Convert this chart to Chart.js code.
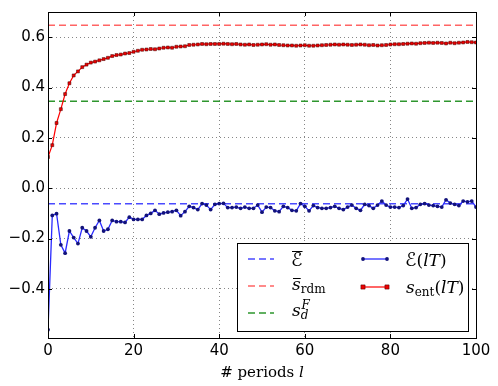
<!DOCTYPE html>
<html><head><meta charset="utf-8">
<script src="https://cdn.jsdelivr.net/npm/chart.js@4/dist/chart.umd.min.js"></script>
<style>html,body{margin:0;padding:0;background:#fff}</style>
</head><body>
<canvas id="c" width="498" height="386"></canvas>
<script>
// ---- data ----
const periods = Array.from({length: 101}, (_, i) => i);
const entanglement = [
  -0.562, -0.108, -0.101, -0.225, -0.258, -0.170, -0.196, -0.220, -0.157, -0.170,
  -0.193, -0.157, -0.128, -0.170, -0.163, -0.128, -0.133, -0.133, -0.136, -0.115,
  -0.124, -0.124, -0.124, -0.108, -0.100, -0.088, -0.103, -0.098, -0.095, -0.093,
  -0.088, -0.109, -0.093, -0.072, -0.077, -0.085, -0.061, -0.067, -0.085, -0.064,
  -0.061, -0.060, -0.077, -0.077, -0.075, -0.080, -0.075, -0.080, -0.080, -0.067,
  -0.095, -0.075, -0.077, -0.090, -0.093, -0.072, -0.077, -0.088, -0.090, -0.061,
  -0.072, -0.090, -0.069, -0.077, -0.080, -0.080, -0.077, -0.072, -0.080, -0.085,
  -0.075, -0.067, -0.080, -0.088, -0.064, -0.069, -0.080, -0.067, -0.051, -0.067,
  -0.075, -0.075, -0.077, -0.069, -0.043, -0.080, -0.077, -0.064, -0.061, -0.067,
  -0.069, -0.072, -0.075, -0.046, -0.059, -0.064, -0.069, -0.051, -0.054, -0.051,
  -0.075
];
const entropy = [
  0.124, 0.171, 0.259, 0.314, 0.374, 0.417, 0.448, 0.464, 0.481, 0.491,
  0.499, 0.503, 0.508, 0.513, 0.518, 0.525, 0.529, 0.531, 0.535, 0.537,
  0.542, 0.546, 0.550, 0.551, 0.553, 0.552, 0.555, 0.558, 0.559, 0.558,
  0.562, 0.563, 0.564, 0.569, 0.570, 0.571, 0.573, 0.572, 0.573, 0.573,
  0.573, 0.574, 0.573, 0.572, 0.573, 0.571, 0.570, 0.571, 0.569, 0.570,
  0.571, 0.572, 0.570, 0.571, 0.569, 0.568, 0.567, 0.567, 0.566, 0.567,
  0.568, 0.566, 0.566, 0.567, 0.568, 0.569, 0.570, 0.571, 0.570, 0.571,
  0.570, 0.569, 0.570, 0.571, 0.570, 0.568, 0.569, 0.567, 0.568, 0.569,
  0.571, 0.572, 0.572, 0.573, 0.574, 0.575, 0.574, 0.576, 0.577, 0.578,
  0.577, 0.578, 0.577, 0.575, 0.578, 0.576, 0.578, 0.579, 0.581, 0.580,
  0.579
];
const E_BAR = -0.0615;
const S_RDM = 0.647;
const S_DF = 0.345;
const X_RANGE = [0, 100];
const Y_RANGE = [-0.595, 0.70];
const X_TICKS = [0, 20, 40, 60, 80, 100];
const Y_TICKS = [-0.4, -0.2, 0.0, 0.2, 0.4, 0.6];

// ---- helpers ----
function hline(v) { return [{x: X_RANGE[0], y: v}, {x: X_RANGE[1], y: v}]; }
function fmtY(v) { const s = Math.abs(v).toFixed(1); return (v < -1e-9 ? '\u2212' : '') + s; }

const SERIF = '"DejaVu Serif", "Liberation Serif", serif';
function rich(ctx, x, y, segs) {
  for (const s of segs) {
    ctx.font = (s.i ? 'italic ' : '') + s.size + 'px ' + (s.f || SERIF);
    const yy = y + (s.dy || 0);
    ctx.fillText(s.t, x, yy);
    const w = ctx.measureText(s.t).width;
    if (s.over) {
      ctx.save(); ctx.lineWidth = 1; ctx.strokeStyle = '#000';
      ctx.beginPath(); ctx.moveTo(x + 1, Math.round(yy - s.over) + 0.5); ctx.lineTo(x + w, Math.round(yy - s.over) + 0.5); ctx.stroke();
      ctx.restore();
    }
    x += w + (s.gap || 0);
  }
}

const framePlugin = {
  id: 'frame',
  afterDatasetsDraw(chart) {
    const {ctx, chartArea: a, scales} = chart;
    ctx.save();
    ctx.strokeStyle = '#000'; ctx.lineWidth = 1;
    ctx.strokeRect(Math.round(a.left) + 0.5, Math.round(a.top) + 0.5, Math.round(a.right - a.left), Math.round(a.bottom - a.top));
    ctx.beginPath();
    for (const v of X_TICKS) {
      const px = Math.round(scales.x.getPixelForValue(v)) + 0.5;
      ctx.moveTo(px, a.bottom); ctx.lineTo(px, a.bottom - 4);
      ctx.moveTo(px, a.top); ctx.lineTo(px, a.top + 4);
    }
    for (const v of Y_TICKS) {
      const py = Math.round(scales.y.getPixelForValue(v)) + 0.5;
      ctx.moveTo(a.left, py); ctx.lineTo(a.left + 4, py);
      ctx.moveTo(a.right, py); ctx.lineTo(a.right - 4, py);
    }
    ctx.stroke();
    ctx.restore();
  },
  afterDraw(chart) {
    const {ctx, chartArea: a} = chart;
    ctx.save();
    ctx.fillStyle = '#000'; ctx.textBaseline = 'alphabetic';
    // x axis title
    const t1 = '# periods ';
    ctx.font = '15px ' + SERIF;
    const w1 = ctx.measureText(t1).width;
    ctx.font = 'italic 15px ' + SERIF;
    const w2 = ctx.measureText('l').width;
    const cx = (a.left + a.right) / 2;
    rich(ctx, cx - (w1 + w2) / 2, 377, [{t: t1, size: 15}, {t: 'l', size: 15, i: true}]);

    // legend box
    const L = 237, T = 243, R = 468, B = 331;
    ctx.fillStyle = '#fff';
    ctx.fillRect(L, T, R - L, B - T);
    ctx.strokeStyle = '#000'; ctx.lineWidth = 1;
    ctx.strokeRect(L + 0.5, T + 0.5, R - L, B - T);

    const ds = chart.data.datasets;
    function dashSample(d, y) {
      ctx.save();
      ctx.strokeStyle = d.borderColor; ctx.lineWidth = d.borderWidth; ctx.setLineDash(d.borderDash);
      ctx.beginPath(); ctx.moveTo(248, y); ctx.lineTo(274, y); ctx.stroke();
      ctx.restore();
    }
    function lineSample(d, y) {
      ctx.save();
      ctx.strokeStyle = d.borderColor; ctx.lineWidth = d.borderWidth;
      ctx.beginPath(); ctx.moveTo(363, y); ctx.lineTo(387, y); ctx.stroke();
      for (const px of [363, 387]) {
        ctx.fillStyle = d.pointBackgroundColor;
        ctx.strokeStyle = d.pointBorderColor; ctx.lineWidth = d.pointBorderWidth || 0.01;
        ctx.beginPath();
        if (d.pointStyle === 'rect') ctx.rect(px - d.pointRadius, y - d.pointRadius, 2 * d.pointRadius, 2 * d.pointRadius);
        else ctx.arc(px, y, d.pointRadius, 0, Math.PI * 2);
        ctx.fill(); if (d.pointBorderWidth) ctx.stroke();
      }
      ctx.restore();
    }
    dashSample(ds[0], 259);
    dashSample(ds[1], 286);
    dashSample(ds[2], 313);
    lineSample(ds[3], 259);
    lineSample(ds[4], 287);

    ctx.fillStyle = '#000';
    const SCR = '"DejaVu Sans", "DejaVu Serif", serif';
    rich(ctx, 291, 266, [{t: '\u2130', size: 19, f: SCR, over: 15}]);
    rich(ctx, 292, 290, [{t: 's', size: 17, i: true, over: 12}, {t: 'rdm', size: 12, dy: 3}]);
    rich(ctx, 292, 316, [{t: 's', size: 17, i: true}, {t: 'd', size: 12, i: true, dy: 3, gap: -7}, {t: 'F', size: 12, i: true, dy: -7}]);
    rich(ctx, 405, 266, [{t: '\u2130', size: 19, f: SCR}, {t: '(', size: 17}, {t: 'lT', size: 17, i: true}, {t: ')', size: 17}]);
    rich(ctx, 406, 293, [{t: 's', size: 17, i: true}, {t: 'ent', size: 12, dy: 3}, {t: '(', size: 17}, {t: 'lT', size: 17, i: true}, {t: ')', size: 17}]);
    ctx.restore();
  }
};

const TICK_FONT = {family: '"DejaVu Sans", sans-serif', size: 15};

new Chart(document.getElementById('c').getContext('2d'), {
  type: 'line',
  data: {
    datasets: [
      {label: 'Ebar', data: hline(E_BAR), borderColor: '#4a4aff', borderWidth: 1.5, borderDash: [7, 4], pointRadius: 0, order: 5},
      {label: 'srdm', data: hline(S_RDM), borderColor: '#ff6464', borderWidth: 1.5, borderDash: [7, 4], pointRadius: 0, order: 5},
      {label: 'sdF', data: hline(S_DF), borderColor: '#2e962e', borderWidth: 1.5, borderDash: [7, 4], pointRadius: 0, order: 5},
      {label: 'E(lT)', data: periods.map((p, i) => ({x: p, y: entanglement[i]})), borderColor: '#2a2aff', borderWidth: 1.3,
       pointRadius: 1.9, pointStyle: 'circle', pointBackgroundColor: '#12127a', pointBorderColor: '#12127a', pointBorderWidth: 0, tension: 0, order: 2},
      {label: 'sent(lT)', data: periods.map((p, i) => ({x: p, y: entropy[i]})), borderColor: '#ff0000', borderWidth: 1.2,
       pointRadius: 2.1, pointStyle: 'rect', pointBackgroundColor: '#ee0000', pointBorderColor: '#400000', pointBorderWidth: 0.5, tension: 0, order: 1}
    ]
  },
  options: {
    responsive: false, animation: false, devicePixelRatio: 1,
    layout: {padding: {left: 0, right: 22, top: 6, bottom: 0}},
    plugins: {legend: {display: false}, tooltip: {enabled: false}},
    elements: {line: {fill: false}},
    scales: {
      x: {
        type: 'linear', min: X_RANGE[0], max: X_RANGE[1],
        afterBuildTicks: s => { s.ticks = X_TICKS.map(v => ({value: v})); },
        afterFit: s => { s.height = 48; },
        ticks: {font: TICK_FONT, color: '#000', padding: 4, maxRotation: 0, autoSkip: false, callback: v => String(v)},
        grid: {color: 'rgba(0,0,0,0.6)', lineWidth: 0.8, drawTicks: false},
        border: {display: false, dash: [1, 3]}
      },
      y: {
        type: 'linear', min: Y_RANGE[0], max: Y_RANGE[1],
        afterBuildTicks: s => { s.ticks = Y_TICKS.map(v => ({value: v})); },
        afterFit: s => { s.width = 48; },
        ticks: {font: TICK_FONT, color: '#000', padding: 3, autoSkip: false, callback: v => fmtY(v)},
        grid: {color: 'rgba(0,0,0,0.6)', lineWidth: 0.8, drawTicks: false},
        border: {display: false, dash: [1, 3]}
      }
    }
  },
  plugins: [framePlugin]
});
</script>
</body></html>
